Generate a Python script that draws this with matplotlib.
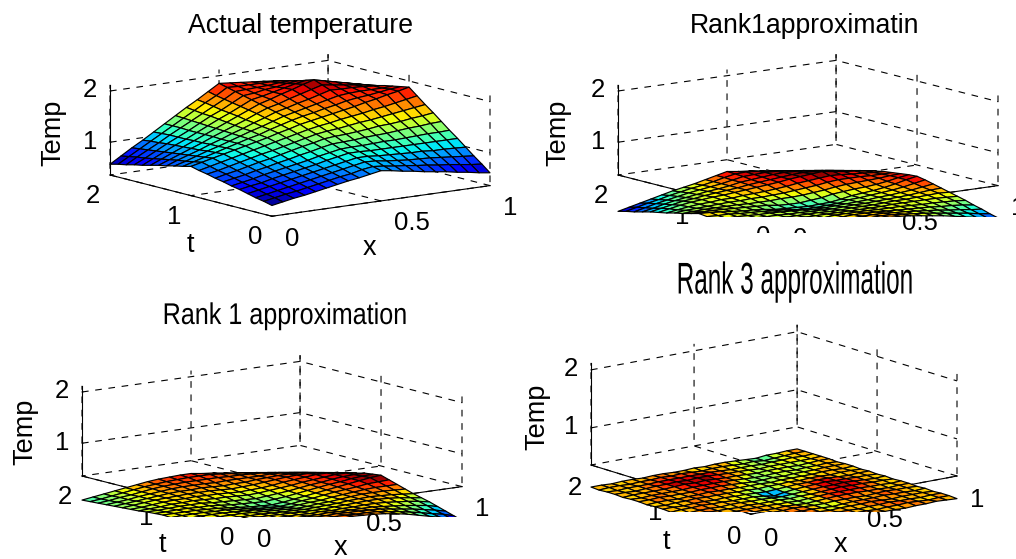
import matplotlib
matplotlib.use("Agg")
import numpy as np
import matplotlib.pyplot as plt
from matplotlib.patheffects import AbstractPathEffect
from matplotlib.transforms import Affine2D, Bbox
from mpl_toolkits.mplot3d import proj3d

# Temperatures, hundredths of a degree; rows are t = 0 .. 2, columns x = 0 .. 1
ACTUAL = [
[57,61,65,68,72,76,80,84,87,91,95,92,88,85,81,78,75,71,68,64,61],
[61,65,69,72,76,80,84,88,91,96,99,97,94,92,89,87,84,82,79,76,74],
[64,68,72,76,80,84,88,92,96,100,104,103,100,98,96,95,94,92,90,88,86],
[68,72,76,80,84,88,92,96,100,104,108,108,106,105,104,103,103,101,101,100,99],
[72,76,79,84,88,92,96,100,105,109,113,113,112,112,112,112,112,112,112,112,112],
[75,79,83,88,92,96,100,104,109,113,117,118,118,119,120,120,121,122,123,123,124],
[79,83,87,92,96,101,105,110,114,119,123,124,125,127,128,129,131,133,134,136,137],
[82,87,91,96,101,105,110,115,120,124,129,131,132,134,136,139,140,142,145,147,150],
[86,90,95,100,105,110,114,119,124,129,134,137,139,142,145,147,150,153,156,159,162],
[89,94,99,104,109,114,119,124,129,134,139,143,146,150,153,156,160,163,167,171,175],
[93,98,103,108,113,118,123,128,134,139,145,149,153,157,161,165,170,174,179,183,188],
[89,95,101,107,113,119,125,130,137,143,149,154,158,163,167,172,175,177,180,183,185],
[86,92,99,106,112,119,126,133,139,146,153,158,163,168,173,178,180,181,181,181,182],
[82,90,97,104,112,119,127,134,142,149,157,162,168,173,179,185,184,184,183,181,179],
[79,87,95,103,111,120,128,136,144,153,161,166,173,179,185,191,188,185,182,179,175],
[75,84,93,102,111,120,129,138,147,156,165,171,178,184,191,197,192,187,182,177,172],
[71,81,91,101,110,120,130,140,149,159,169,173,178,183,188,192,187,183,178,174,169],
[68,78,89,100,110,120,131,142,151,162,173,175,179,181,185,187,183,179,175,170,166],
[64,76,87,98,110,121,132,143,154,165,177,178,179,180,182,183,179,175,171,166,162],
[61,73,85,97,109,121,133,145,157,168,181,180,180,180,180,179,175,171,167,162,159],
[57,70,83,95,108,121,134,147,159,172,185,183,181,179,177,175,171,167,163,159,155],
]
RANK1_TOP = [
[-30,-25,-20,-16,-12,-8,-5,-2,1,3,4,3,1,-2,-5,-8,-12,-16,-20,-24,-27],
[-26,-22,-17,-14,-10,-7,-5,-2,0,2,3,2,0,-2,-4,-7,-10,-13,-16,-20,-23],
[-22,-18,-14,-12,-9,-7,-5,-3,0,1,1,1,-1,-2,-4,-6,-8,-11,-13,-16,-18],
[-18,-15,-12,-10,-8,-6,-5,-3,-1,0,0,-1,-2,-3,-4,-5,-6,-8,-9,-11,-14],
[-14,-11,-9,-7,-6,-5,-4,-4,-2,-2,-2,-2,-3,-3,-3,-4,-5,-5,-6,-7,-9],
[-10,-8,-6,-5,-5,-4,-4,-4,-4,-4,-4,-4,-4,-4,-3,-3,-3,-3,-3,-4,-5],
[-8,-6,-5,-5,-5,-5,-5,-5,-5,-6,-6,-5,-5,-5,-4,-3,-3,-2,-1,0,-1],
[-5,-5,-4,-4,-5,-5,-6,-6,-7,-7,-8,-7,-6,-6,-5,-4,-3,-2,0,2,3],
[-3,-3,-3,-4,-5,-5,-6,-7,-8,-10,-10,-9,-8,-7,-6,-4,-3,-1,1,4,7],
[-1,-2,-2,-4,-5,-6,-8,-9,-12,-13,-13,-12,-11,-7,-6,-4,-2,0,3,7,11],
[1,0,-2,-4,-6,-7,-9,-12,-13,-14,-15,-14,-13,-10,-6,-4,-2,1,5,10,14],
[-3,-3,-3,-4,-5,-6,-7,-8,-11,-12,-12,-10,-8,-4,-2,0,1,3,6,10,13],
[-7,-6,-5,-5,-5,-5,-6,-6,-6,-5,-5,-4,-2,0,3,5,6,7,8,10,11],
[-10,-8,-7,-6,-5,-4,-4,-3,-3,-2,-1,1,3,5,8,10,10,10,9,9,9],
[-14,-11,-8,-6,-5,-3,-3,-1,0,1,3,5,8,10,12,14,13,11,10,8,7],
[-17,-13,-9,-6,-4,-2,-1,1,3,5,7,9,12,14,16,18,15,12,10,7,4],
[-20,-16,-12,-8,-6,-3,-1,1,3,6,8,10,12,14,15,14,12,9,6,3,0],
[-24,-20,-15,-11,-8,-5,-2,0,3,7,9,11,13,14,13,11,8,5,2,-1,-3],
[-28,-23,-18,-14,-10,-6,-3,0,3,7,11,12,13,12,10,7,4,1,-2,-5,-7],
[-31,-26,-21,-17,-12,-8,-4,-1,3,8,12,13,11,8,6,3,0,-3,-5,-8,-11],
[-35,-30,-25,-20,-15,-10,-6,-2,3,8,13,10,8,5,2,-1,-4,-6,-9,-12,-15],
]
RANK1_BOTTOM = [
[-5,-3,-1,1,2,3,4,5,6,7,8,7,6,4,1,-3,-8,-13,-18,-24,-30],
[-5,-3,-1,1,2,3,3,4,5,6,6,5,5,4,1,-2,-6,-10,-15,-19,-25],
[-4,-3,-1,0,2,2,3,3,4,4,5,4,4,3,2,-1,-4,-7,-11,-15,-20],
[-4,-2,-1,0,1,2,2,2,2,2,3,2,2,2,2,0,-2,-4,-7,-10,-15],
[-3,-2,-1,0,1,1,1,1,1,0,1,0,1,1,2,2,1,-1,-3,-6,-10],
[-3,-2,-1,0,1,1,1,0,0,-1,-1,-1,0,1,2,3,3,2,0,-3,-6],
[-2,-2,-1,0,0,0,0,-1,-2,-2,-3,-2,-1,0,2,3,4,3,2,0,-2],
[-2,-1,-1,0,0,0,-1,-2,-3,-4,-5,-4,-2,-1,1,3,5,5,5,4,3],
[-1,-1,0,0,0,-1,-2,-3,-5,-6,-7,-5,-3,-2,1,3,5,7,8,8,8],
[-1,0,0,0,-1,-1,-3,-5,-7,-8,-9,-7,-4,-2,1,4,6,8,11,12,13],
[0,0,0,0,-1,-2,-4,-6,-8,-9,-10,-8,-5,-2,1,4,7,10,13,16,18],
[-1,-1,0,0,-1,-1,-3,-5,-6,-7,-8,-6,-4,-1,2,5,8,10,13,15,16],
[-2,-2,-1,0,0,0,-2,-3,-4,-5,-6,-4,-2,0,3,6,8,11,13,14,14],
[-4,-3,-2,0,0,1,0,-1,-1,-2,-3,-2,0,2,4,7,9,11,13,13,10],
[-5,-4,-2,0,1,1,2,1,1,0,-1,0,1,3,6,8,10,12,12,9,6],
[-6,-4,-2,0,1,2,3,3,3,2,1,2,3,5,7,9,10,10,8,6,3],
[-7,-5,-3,-1,1,3,4,4,5,4,3,4,4,6,7,8,8,7,5,2,-1],
[-8,-6,-4,-1,1,3,5,6,6,6,5,6,6,6,6,7,6,3,1,-2,-5],
[-9,-7,-4,-2,1,4,6,7,8,8,8,8,7,7,6,5,2,-1,-3,-6,-9],
[-10,-8,-5,-2,1,4,6,8,9,10,10,10,8,6,4,1,-2,-4,-7,-10,-13],
[-11,-8,-5,-2,1,4,7,9,10,11,11,8,6,3,0,-3,-5,-8,-11,-14,-17],
]
RANK3 = [
[-2,-2,-3,-2,-2,-1,-2,-2,-3,-2,-2,-2,-1,-2,-2,-3,-2,-2,-1,-2,-3],
[-3,-2,-2,-2,-1,-2,-2,-3,-2,-2,-1,-2,-2,-3,-2,-2,-1,-2,-3,-2,-2],
[-2,-2,-3,-2,-2,-2,-3,-2,-2,-1,-2,-2,-3,-2,-2,-1,-2,-2,-3,-2,-2],
[-2,-1,-2,-2,-3,-2,-2,-2,-1,-2,-3,-2,-2,-2,-1,-2,-3,-2,-2,-2,-3],
[-3,-2,-2,-1,-2,-2,-3,-2,-2,-2,-3,-4,-3,-2,-2,-2,-1,-2,-2,-3,-2],
[-2,-2,-3,-2,-2,-3,-2,-2,-1,-2,-3,-3,-2,-2,-2,-3,-2,-1,-2,-2,-3],
[-2,-3,-2,-2,-1,-2,-2,-3,-2,-3,-4,-3,-2,-1,-1,-1,-2,-2,-3,-2,-2],
[-3,-2,-2,-3,-2,-2,-2,-2,-3,-3,-4,-3,-2,-1,-1,-1,-1,-2,-2,-3,-2],
[-2,-2,-1,-2,-2,-3,-2,-3,-3,-3,-4,-3,-3,-2,-1,0,-1,-1,-2,-2,-3],
[-2,-3,-2,-2,-3,-2,-2,-3,-3,-4,-5,-4,-3,-2,-1,-1,0,-1,-2,-3,-2],
[-3,-2,-2,-1,-2,-2,-3,-3,-3,-5,-8,-5,-3,-2,-1,0,-1,-1,-2,-2,-3],
[-2,-2,-3,-2,-2,-3,-2,-3,-3,-4,-5,-4,-3,-2,-2,-1,-1,-2,-3,-2,-2],
[-2,-3,-2,-2,-1,-2,-2,-2,-3,-3,-4,-3,-3,-2,-3,-2,-2,-3,-2,-2,-3],
[-3,-2,-2,-3,-2,-2,-1,-2,-2,-3,-3,-3,-4,-3,-3,-3,-3,-2,-2,-3,-2],
[-2,-2,-1,-2,-2,-2,-1,-1,-1,-2,-3,-4,-4,-3,-4,-3,-3,-3,-2,-2,-2],
[-2,-3,-2,-2,-2,-2,-1,-1,-1,-1,-2,-3,-4,-4,-3,-3,-4,-3,-3,-2,-3],
[-3,-2,-2,-2,-2,-1,0,-1,0,-1,-2,-2,-3,-4,-3,-3,-3,-4,-3,-2,-2],
[-2,-2,-3,-2,-1,-1,0,-1,0,0,-1,-2,-2,-3,-4,-3,-3,-3,-3,-3,-2],
[-2,-3,-2,-2,-2,-1,-1,-1,-1,-1,-1,-2,-3,-3,-3,-4,-3,-3,-2,-3,-2],
[-3,-2,-2,-3,-2,-2,-1,-2,-1,-2,-3,-2,-2,-3,-4,-3,-5,-4,-3,-2,-2],
[-2,-2,-3,-2,-2,-3,-2,-2,-3,-3,-2,-3,-2,-2,-3,-4,-5,-3,-3,-2,-2],
]
X_TICKS = [0, 0.5, 1]
X_LABELS = ['0', '0.5', '1']
T_TICKS = [0, 1, 2]
T_LABELS = ['0', '1', '2']
Z_TICKS = [1, 2]
Z_LABELS = ['1', '2']
ZLIM = (0.36, 2.12)

W, H = 1016, 559
plt.rcParams['font.family'] = ['Liberation Sans', 'DejaVu Sans']
plt.rcParams['grid.color'] = 'black'
plt.rcParams['grid.linewidth'] = 0.8
plt.rcParams['grid.linestyle'] = (0, (6, 6))
fig = plt.figure(figsize=(W / 100, H / 100), dpi=100, facecolor='white')


class Squeeze(AbstractPathEffect):
    """Narrows a text horizontally about a centre in pixels, as in the stretched reference."""
    def __init__(self, cx, sx):
        super().__init__()
        self.cx, self.sx = cx, sx

    def draw_path(self, renderer, gc, tpath, affine, rgbFace=None):
        t = affine + Affine2D().translate(-self.cx, 0).scale(self.sx, 1).translate(self.cx, 0)
        renderer.draw_path(gc, tpath, t, rgbFace)


def px(ax, x, t, z):
    xs, ys, _ = proj3d.proj_transform(x, t, z, ax.get_proj())
    return ax.transData.transform((xs, ys))


def panel(data, title, left, right, clip_y, elev, azim, lz, title_xy, title_size, squeeze,
          label_xy, tick_clip=None, show_xt=True, vlim=None):
    ax = fig.add_axes([0.2, 0.1, 0.5, 0.5 * W / H], projection='3d', proj_type='ortho',
                      computed_zorder=False)
    ax.patch.set_alpha(0)
    ax.view_init(elev=elev, azim=azim)
    ax.set_box_aspect((1, 1, lz))
    ax.set_xlim(0, 1); ax.set_ylim(0, 2); ax.set_zlim(*ZLIM)
    size = 500.0
    cx, cy = 400.0, 280.0
    for _ in range(4):
        ax.set_position([(cx - size / 2) / W, (cy - size / 2) / H, size / W, size / H])
        ax.apply_aspect()
        a = px(ax, 0, 2, ZLIM[0]); b = px(ax, 1, 0, ZLIM[0])
        size *= (right[0] - left[0]) / (b[0] - a[0])
        ax.set_position([(cx - size / 2) / W, (cy - size / 2) / H, size / W, size / H])
        ax.apply_aspect()
        a = px(ax, 0, 2, ZLIM[0])
        cx += left[0] - a[0]
        cy += (H - left[1]) - a[1]
    ax.set_position([(cx - size / 2) / W, (cy - size / 2) / H, size / W, size / H])
    ax.apply_aspect()

    Z = np.array(data) / 100.0
    xg = np.arange(Z.shape[1]) * 0.05
    tg = np.arange(Z.shape[0]) * 0.1
    XX, TT = np.meshgrid(xg, tg)
    vmin, vmax = vlim if vlim else (Z.min(), Z.max())
    surf = ax.plot_surface(XX, TT, Z, cmap='jet', vmin=vmin, vmax=vmax, rstride=1, cstride=1,
                           edgecolor='black', linewidth=0.85, shade=False, antialiased=True)
    surf.set_clip_box(Bbox([[0, H - clip_y], [W, H]]))

    ax.set_xticks(X_TICKS, X_LABELS)
    ax.set_yticks(T_TICKS, T_LABELS)
    ax.set_zticks(Z_TICKS, Z_LABELS)
    ax.tick_params(axis='x', labelsize=18.5, pad=3.5)
    ax.tick_params(axis='y', labelsize=18.5, pad=3)
    ax.tick_params(axis='z', labelsize=18.5, pad=-0.5)
    for lab in ax.get_xticklabels():
        lab.set_ha('left')
    for lab in ax.get_zticklabels():
        lab.set_va('center')
    for axis in (ax.xaxis, ax.yaxis, ax.zaxis):
        axis.set_pane_color((1, 1, 1, 0))
        axis.pane.set_edgecolor((1, 1, 1, 0))
        axis.line.set_color('black')
        axis.line.set_linewidth(0.8)
        axis._axinfo['tick']['inward_factor'] = 0.0
        axis._axinfo['tick']['outward_factor'] = 0.06
        axis._axinfo['tick']['linewidth'] = {True: 0.7, False: 0.5}
        axis._axinfo['tick']['color'] = 'black'
        axis.set_rotate_label(False)
    ax.grid(True)
    if tick_clip is not None:
        box = Bbox([[0, H - tick_clip], [W, H]])
        for axis in (ax.xaxis, ax.yaxis):
            for tick in axis.get_major_ticks():
                tick.label1.set_clip_on(True)
                tick.label1.set_clip_box(box)

    def place(axis, text, p, rotation=0):
        axis.set_label_text(text, fontsize=19.5, rotation=rotation)
        lab = axis.label
        d = ax.transData.inverted().transform((p[0], H - p[1]))
        lab.set_x(d[0]); lab.set_y(d[1])
        lab.set_position = lambda xy: None

    place(ax.zaxis, 'Temp', label_xy[0], 90)
    if show_xt:
        place(ax.yaxis, 't', label_xy[1])
        place(ax.xaxis, 'x', label_xy[2])

    tx, ty = ax.transAxes.inverted().transform((title_xy[0], H - (title_xy[1] - 14.5)))
    t = ax.set_title(title, x=tx, y=ty, va='center', ha='center', fontsize=title_size)
    if squeeze != 1:
        t.set_path_effects([Squeeze(title_xy[0], squeeze)])
    return ax


panel(ACTUAL, 'Actual temperature', (110, 175), (490, 186), 215, 10.9, -126.6, 0.338,
      (300, 23), 19.2, 1, [(53, 133), (190, 245), (370, 248)])
panel(RANK1_TOP, 'Rank1approximatin', (618, 175), (998, 186), 217, 10.9, -126.6, 0.338,
      (805, 23), 19.2, 1, [(558, 133)], tick_clip=233, show_xt=False, vlim=(-0.35, 0.16))
panel(RANK1_BOTTOM, 'Rank 1 approximation', (82, 476), (462, 486), 517, 10.9, -126.6, 0.338,
      (285, 312), 21.6, 0.838, [(25, 432), (162, 545), (341, 548)], vlim=(-0.30, 0.16))
panel(RANK3, 'Rank 3 approximation', (591, 465), (957, 477), 512, 13.8, -127.8, 0.403,
      (795, 277), 32, 0.547, [(537, 417), (666, 542), (840, 545)], vlim=(-0.08, 0.0))

fig.savefig('out.png', dpi=100, facecolor='white')
